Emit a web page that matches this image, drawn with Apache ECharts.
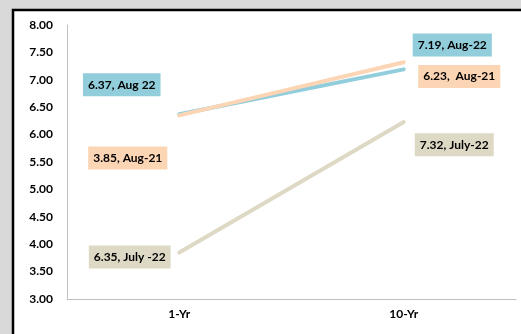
<!DOCTYPE html>
<html>
<head>
<meta charset="utf-8">
<script src="https://cdn.jsdelivr.net/npm/echarts@6/dist/echarts.min.js"></script>
<style>
  html, body { margin: 0; padding: 0; background: #d9d9d9; }
  #chart { width: 521px; height: 334px; }
</style>
</head>
<body>
<div id="chart"></div>
<script>
// Tenors on the x axis
const tenors = ['1-Yr', '10-Yr'];

// Yields per curve date
const aug22 = [6.37, 7.19];
const jul22 = [6.35, 7.32];
const aug21 = [3.85, 6.23];

// Text of the callout boxes, per series
const aug22Labels = ['6.37, Aug 22', '7.19, Aug-22'];
const jul22Labels = ['6.35, July -22', '7.32, July-22'];
const aug21Labels = ['3.85, Aug-21', '6.23,  Aug-21'];

// Y axis ticks
const yMin = 3, yMax = 8, yStep = 0.5;

// Callout placement relative to each point, in pixels
const aug22Offsets = [[-57, -29], [49, -24]];
const jul22Offsets = [[-49, 142], [51, 83]];
const aug21Offsets = [[-51, -94], [56, -45]];

const font = 'Lato, "Open Sans", sans-serif';

function makeSeries(name, values, texts, offsets, lineColor, boxColor) {
  return {
    name: name,
    type: 'line',
    data: values.map((v, i) => ({
      value: v,
      label: {
        show: true,
        position: offsets[i],
        align: 'center',
        verticalAlign: 'middle',
        formatter: () => texts[i],
        backgroundColor: boxColor,
        color: '#000',
        fontFamily: font,
        fontWeight: 'bold',
        fontSize: 12,
        padding: [6, 5, 5, 5]
      }
    })),
    showSymbol: true,
    symbol: 'circle',
    symbolSize: 1,
    label: { show: true },
    lineStyle: { color: lineColor, width: 4, cap: 'round' },
    itemStyle: { color: 'rgba(0,0,0,0)', borderWidth: 0 },
    emphasis: { disabled: true },
    labelLayout: { hideOverlap: false },
    z: 2
  };
}

const chart = echarts.init(document.getElementById('chart'), null, { renderer: 'canvas' });
chart.setOption({
  animation: false,
  backgroundColor: '#d9d9d9',
  graphic: [{
    type: 'rect',
    shape: { x: 13, y: 10, width: 540, height: 360 },
    style: { fill: '#ffffff', stroke: '#000000', lineWidth: 2.5 },
    z: -10,
    silent: true
  }],
  grid: { left: 67, top: 25, right: 5, bottom: 35 },
  xAxis: {
    type: 'category',
    data: tenors,
    boundaryGap: true,
    axisLine: { lineStyle: { color: '#bfbfbf', width: 1 } },
    axisTick: { show: false },
    axisLabel: { color: '#000', fontFamily: font, fontWeight: 'bold', fontSize: 12, margin: 9 }
  },
  yAxis: {
    type: 'value',
    min: yMin,
    max: yMax,
    interval: yStep,
    axisLine: { show: true, lineStyle: { color: '#bfbfbf', width: 1 } },
    axisTick: { show: false },
    splitLine: { show: false },
    axisLabel: {
      color: '#000', fontFamily: font, fontWeight: 'bold', fontSize: 12, margin: 14,
      formatter: v => v.toFixed(2)
    }
  },
  series: [
    makeSeries('Aug-22', aug22, aug22Labels, aug22Offsets, '#92cddc', '#92cddc'),
    makeSeries('Aug-21', aug21, aug21Labels, aug21Offsets, '#ddd9c4', '#fcd5b4'),
    makeSeries('July-22', jul22, jul22Labels, jul22Offsets, '#fcd5b4', '#ddd9c4')
  ]
});
</script>
</body>
</html>
